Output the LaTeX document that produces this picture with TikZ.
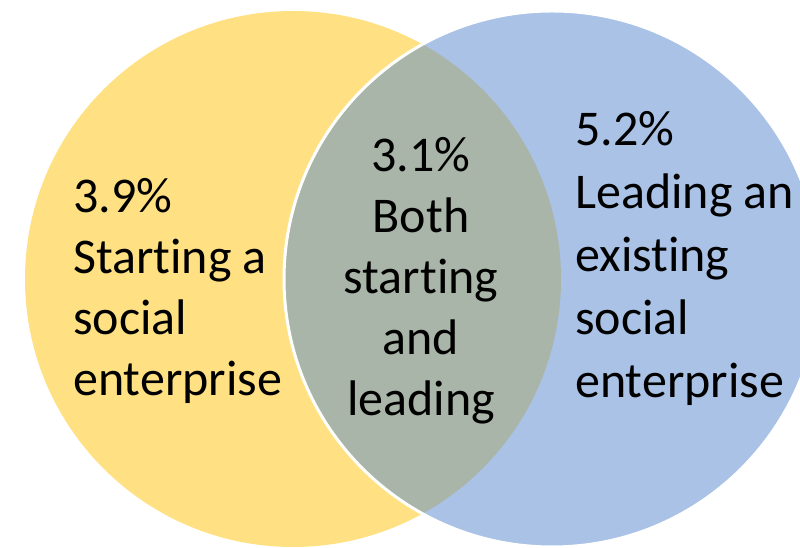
\documentclass[tikz,border=0pt]{standalone}
\usepackage{fontspec}
\setmainfont[Ligatures=NoCommon]{Carlito}
\definecolor{startyellow}{HTML}{FFE183}
\definecolor{leadblue}{HTML}{A9C2E6}
\definecolor{bothgrey}{HTML}{A9B5A8}

\begin{document}
\begin{tikzpicture}[x=1pt,y=1pt,
    venntext/.style={inner sep=0pt, font=\fontsize{50}{61}\selectfont}]
    \useasboundingbox (0,0) rectangle (800,548);
    \clip (0,0) rectangle (800,548);
    \coordinate (S) at (293,269);
    \coordinate (L) at (552,269);
    \fill[startyellow] (S) circle (268pt);
    \fill[leadblue] (L) circle (268pt);
    \begin{scope}
      \clip (S) circle (268pt);
      \fill[bothgrey] (L) circle (268pt);
    \end{scope}
    \draw[white, line width=3pt] (L) circle (268pt);
    \node[venntext, anchor=north west, align=left] (start) at (73,370)
      {3.9\%\\Starting a\\social\\enterprise};
    \node[venntext, anchor=north, align=center] (both) at (421,411)
      {3.1\%\\Both\\starting\\and\\leading};
    \node[venntext, anchor=north west, align=left, font=\fontsize{50}{63}\selectfont] (lead) at (575,437)
      {5.2\%\\Leading an\\existing\\social\\enterprise};
  \end{tikzpicture}
\end{document}
